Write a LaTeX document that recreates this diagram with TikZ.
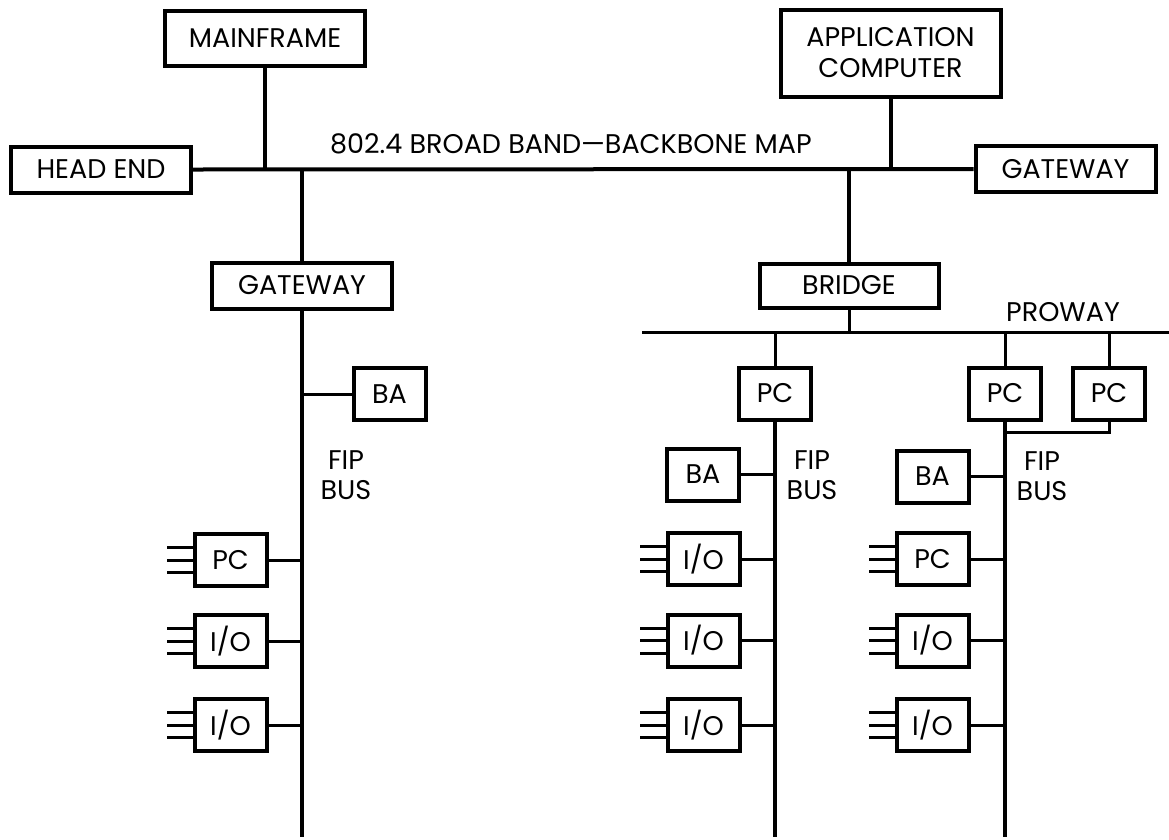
\documentclass[tikz,border=0pt]{standalone}
\usepackage{fontspec}
\setmainfont{Poppins}
\usepackage{tikz}
\usetikzlibrary{positioning}

\begin{document}
\begin{tikzpicture}[x=1pt, y=-1pt,
    box/.style={rectangle, draw, line width=4pt, inner sep=0pt, font=\fontsize{27}{31}\selectfont, align=center},
    unit/.style={box, minimum width=72pt, minimum height=52pt},
    label/.style={font=\fontsize{27}{30}\selectfont, align=center, inner sep=0pt},
    bus/.style={line width=4pt},
    tap/.style={line width=3pt},
    pin/.style={line width=3pt}
]
    \useasboundingbox (0,0) rectangle (1169,839);
    \coordinate (bot) at (0,837);

    % Backbone stations
    \node[box, minimum width=200pt, minimum height=55pt] (mainframe) at (265,38) {MAINFRAME};
    \node[box, minimum width=180pt, minimum height=46pt] (headend) at (101,169.5) {HEAD END};
    \node[box, minimum width=220pt, minimum height=87pt] (app) at (890.5,53) {APPLICATION\\COMPUTER};
    \node[box, minimum width=180pt, minimum height=46pt] (gwR) at (1065.5,169) {GATEWAY};
    \node[box, minimum width=180pt, minimum height=46pt] (gwL) at (302,285.5) {GATEWAY};
    \node[box, minimum width=179pt, minimum height=44pt] (bridge) at (849,285.5) {BRIDGE};
    \node[label, anchor=west] (bbLabel) at (330,144) {802.4 BROAD BAND—BACKBONE MAP};

    % Left FIP bus
    \node[unit] (baL) at (389.5,394) {BA};
    \node[unit] (pcL) at (230.5,560) {PC};
    \node[unit] (ioLa) at (230.5,641) {I/O};
    \node[unit] (ioLb) at (230.5,725) {I/O};
    \node[label] (fipL) at (346,475) {FIP\\BUS};

    % Proway
    \coordinate (prowayL) at (642,332);
    \coordinate (prowayR) at (1169,332);
    \node[label] (proway) at (1063,312) {PROWAY};

    % Middle FIP bus
    \node[unit] (pcA) at (775,393.5) {PC};
    \node[unit] (baA) at (703,474.5) {BA};
    \node[unit] (ioAa) at (703.5,559) {I/O};
    \node[unit] (ioAb) at (703.5,640.5) {I/O};
    \node[unit] (ioAc) at (703.5,725) {I/O};
    \node[label] (fipA) at (812,475) {FIP\\BUS};

    % Right FIP bus
    \node[unit] (pcB) at (1005,393.5) {PC};
    \node[unit] (pcC) at (1109,393.5) {PC};
    \node[unit] (baB) at (932.5,476.5) {BA};
    \node[unit] (pcD) at (932.5,559) {PC};
    \node[unit] (ioBa) at (932.5,640.5) {I/O};
    \node[unit] (ioBb) at (932.5,725) {I/O};
    \node[label] (fipB) at (1042,476) {FIP\\BUS};
    \coordinate (tieB) at (1005,432);

    % Backbone
    \draw[bus] (headend.east) -- (gwR.west);
    \draw[bus] (mainframe.south) -- (mainframe.south |- headend.east);
    \draw[bus] (app.south) -- (app.south |- gwR.west);
    \draw[bus] (gwL.north) -- (gwL.north |- headend.east);
    \draw[bus] (bridge.north) -- (bridge.north |- gwR.west);

    % Buses
    \draw[bus] (gwL.south) -- (gwL.south |- bot);
    \draw[tap] (prowayL) -- (prowayR);
    \draw[tap] (bridge.south) -- (bridge.south |- prowayL);
    \draw[tap] (pcA.north) -- (pcA.north |- prowayL);
    \draw[tap] (pcB.north) -- (pcB.north |- prowayL);
    \draw[tap] (pcC.north) -- (pcC.north |- prowayL);
    \draw[bus] (pcA.south) -- (pcA.south |- bot);
    \draw[bus] (pcB.south) -- (pcB.south |- bot);
    \draw[tap] (pcC.south) |- (tieB);

    % Taps
    \draw[tap] (baL.west) -- (baL.west -| gwL.south);
    \foreach \n in {pcL, ioLa, ioLb}
        \draw[tap] (\n.east) -- (\n.east -| gwL.south);
    \foreach \n in {baA, ioAa, ioAb, ioAc}
        \draw[tap] (\n.east) -- (\n.east -| pcA.south);
    \foreach \n in {baB, pcD, ioBa, ioBb}
        \draw[tap] (\n.east) -- (\n.east -| pcB.south);

    % Field pins
    \foreach \n in {pcL, ioLa, ioLb, ioAa, ioAb, ioAc, pcD, ioBa, ioBb}
        \foreach \dy in {-12.5,0,12.5}
            \draw[pin] ([yshift=\dy pt]\n.west) -- ++(-26,0);
\end{tikzpicture}
\end{document}
